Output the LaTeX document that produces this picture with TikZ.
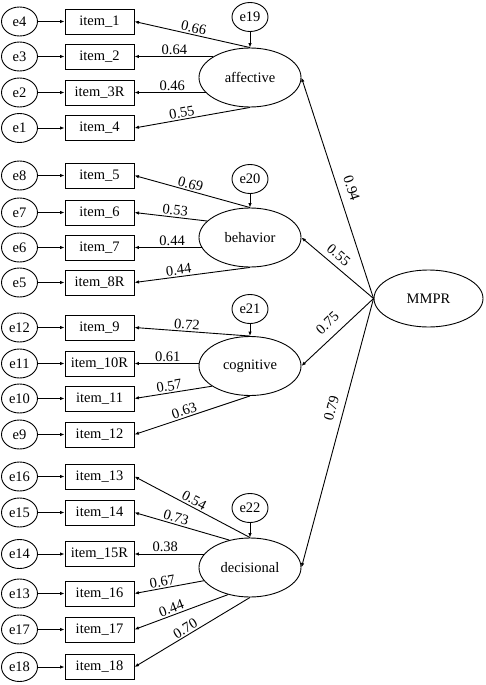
\documentclass[tikz,border=0pt]{standalone}
\usepackage{fontspec}
\setmainfont{Liberation Serif}
\usetikzlibrary{arrows.meta,shapes.geometric}
\begin{document}
\begin{tikzpicture}[x=1pt,y=-1pt,
  font=\fontsize{14.5}{17}\selectfont,
  errv/.style={ellipse,draw,line width=0.9pt,minimum width=36pt,minimum height=29pt,inner sep=0pt},
  itembox/.style={rectangle,draw,line width=0.9pt,minimum width=69pt,minimum height=25pt,inner sep=0pt},
  latent/.style={ellipse,draw,line width=0.9pt,minimum width=102pt,minimum height=59pt,inner sep=0pt},
  arr/.style={line width=0.9pt,-{Latex[length=4.5pt,width=3.5pt]}},
  lab/.style={inner sep=1.5pt,above,sloped},
  labm/.style={inner sep=#1,above,sloped}]
\useasboundingbox (0,0) rectangle (485,685);

% items
\foreach \n/\t/\y in {1/item\_1/21.5,2/item\_2/56.5,3/item\_3R/92.5,4/item\_4/128,
  5/item\_5/175.5,6/item\_6/212.5,7/item\_7/247.5,8/item\_8R/282.5,
  9/item\_9/327.5,10/item\_10R/363.5,11/item\_11/398.5,12/item\_12/434.5,
  13/item\_13/476.5,14/item\_14/512.5,15/item\_15R/554,16/item\_16/593.5,
  17/item\_17/629.5,18/item\_18/667}
  \node[itembox] (i\n) at (99.5,\y) {\t};

% item errors
\foreach \n/\e in {1/e4,2/e3,3/e2,4/e1,5/e8,6/e7,7/e6,8/e5,9/e12,10/e11,11/e10,12/e9,
  13/e16,14/e15,15/e14,16/e13,17/e17,18/e18}
  {\node[errv] (\e) at (19.5,0 |- i\n) {\e};
   \draw[arr] (\e.east) -- (i\n.west);}

% latent factors
\node[latent] (aff) at (250,77.5) {affective};
\node[latent] (beh) at (250,237.5) {behavior};
\node[latent] (cog) at (250,366) {cognitive};
\node[latent] (dec) at (250,567.5) {decisional};
\node[latent,minimum width=109pt,minimum height=57pt] (mmpr) at (428.5,298.5) {MMPR};

% disturbances
\node[errv] (e19) at (250,17) {e19};
\node[errv] (e20) at (250,179) {e20};
\node[errv] (e21) at (250,309) {e21};
\node[errv] (e22) at (250,508) {e22};
\draw[arr] (e19.south) -- (aff.north);
\draw[arr] (e20.south) -- (beh.north);
\draw[arr] (e21.south) -- (cog.north);
\draw[arr] (e22.south) -- (dec.north);

% affective loadings
\draw[arr] (aff.north) -- node[pos=0.5,lab] {0.66} (i1.east);
\draw[arr] (i2.east -| aff.151) -- node[pos=0.49,lab] {0.64} (i2.east);
\draw[arr] (i3.east -| aff.199) -- node[pos=0.47,lab] {0.46} (i3.east);
\draw[arr] (aff.south) -- node[pos=0.58,lab] {0.55} (i4.east);

% behavior loadings
\draw[arr] (beh.north) -- node[pos=0.53,lab] {0.69} (i5.east);
\draw[arr] (beh.159) -- node[pos=0.45,lab] {0.53} (i6.east);
\draw[arr] (i7.east -| beh.192) -- node[pos=0.44,lab] {0.44} (i7.east);
\draw[arr] (beh.south) -- node[pos=0.61,lab] {0.44} (i8.east);

% cognitive loadings
\draw[arr] (cog.north) -- node[pos=0.55,lab] {0.72} (i9.east);
\draw[arr] (i10.east -| cog.west) -- node[pos=0.48,lab] {0.61} (i10.east);
\draw[arr] (cog.208) -- node[pos=0.54,lab] {0.57} (i11.east);
\draw[arr] (cog.south) -- node[pos=0.55,lab] {0.63} (i12.east);

% decisional loadings
\draw[arr] (dec.north) -- node[pos=0.51,lab] {0.54} (i13.east);
\draw[arr] (dec.127) -- node[pos=0.58,lab] {0.73} (i14.east);
\draw[arr] (i15.east -| dec.163) -- node[pos=0.56,lab] {0.38} (i15.east);
\draw[arr] (dec.196) -- node[pos=0.58,lab] {0.67} (i16.east);
\draw[arr] (dec.231) -- node[pos=0.58,lab] {0.44} (i17.east);
\draw[arr] (dec.south) -- node[pos=0.53,lab] {0.70} (i18.east);

% second-order loadings
\draw[arr] (mmpr.west) -- node[pos=0.48,labm=8pt] {0.94} (aff.east);
\draw[arr] (mmpr.west) -- node[pos=0.58,labm=5.4pt] {0.55} (beh.east);
\draw[arr] (mmpr.west) -- node[pos=0.51,labm=8.3pt] {0.75} (cog.east);
\draw[arr] (mmpr.west) -- node[pos=0.42,labm=6.9pt] {0.79} (dec.east);
\end{tikzpicture}
\end{document}
